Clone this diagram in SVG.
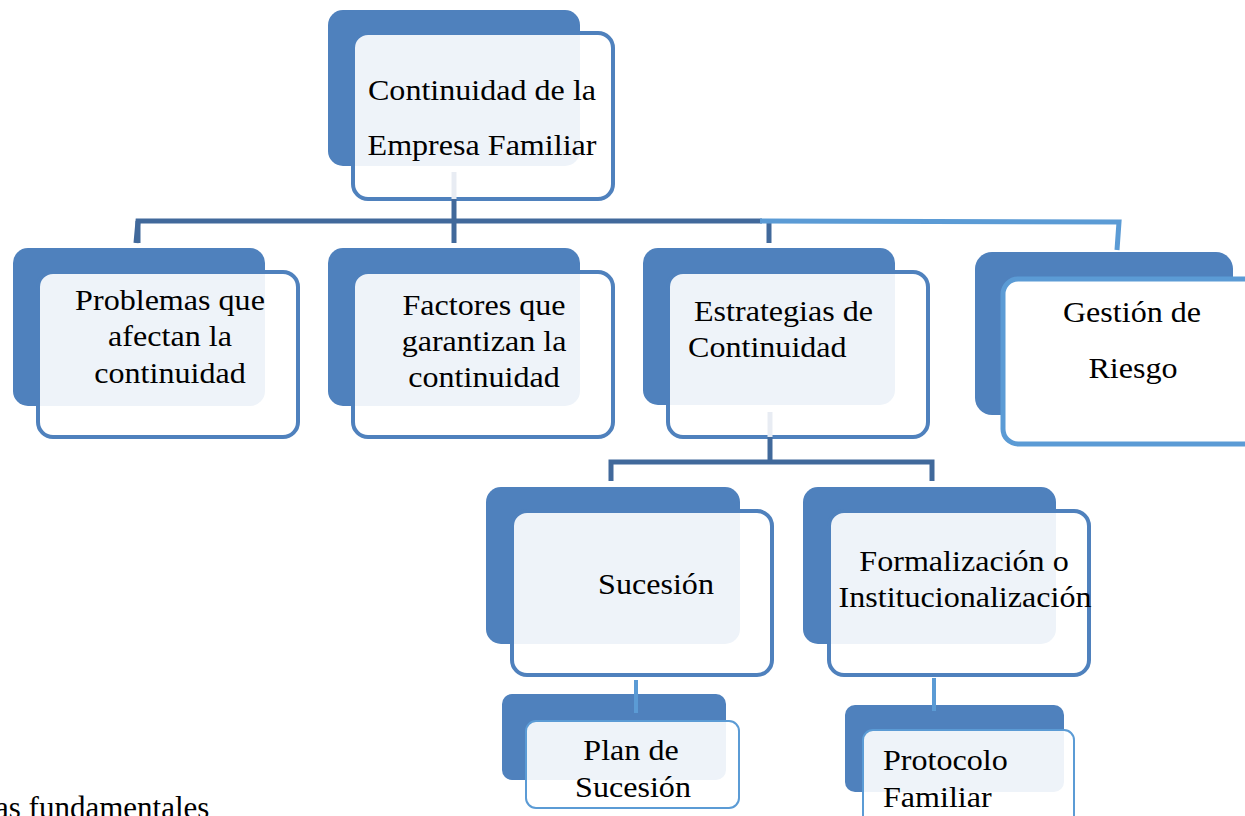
<svg xmlns="http://www.w3.org/2000/svg" width="1245" height="816" viewBox="0 0 1245 816">
<style>
.back{fill:#4f81bd}
.front{fill:#ffffff;fill-opacity:0.9;stroke:#4f81bd;stroke-width:4}
.frontg{fill:#ffffff;stroke:#5b9bd5;stroke-width:5}
.fronts{fill:#ffffff;fill-opacity:0.9;stroke:#5b9bd5;stroke-width:2}
.t{font-family:"Liberation Serif","Times New Roman",serif;font-size:30px;fill:#000}
.m{text-anchor:middle}
.dk{stroke:#41699b;stroke-width:5;fill:none}
.lt{stroke:#5b9bd5;stroke-width:5;fill:none}
.lt4{stroke:#5b9bd5;stroke-width:4;fill:none}
.fa{stroke:#e8ecf3;stroke-width:5;fill:none}
</style>
<rect width="1245" height="816" fill="#fff"/>
<g id="n-continuidad">
<rect class="back" x="328" y="10" width="252" height="156" rx="15"/>
<rect class="front" x="353" y="33" width="260" height="166" rx="15"/>
<text class="t m" transform="translate(482,100) scale(1.07,1)">Continuidad de la</text>
<text class="t m" transform="translate(482,155) scale(1.07,1)">Empresa Familiar</text>
</g>
<g id="n-problemas">
<rect class="back" x="13" y="248" width="252" height="158" rx="15"/>
<rect class="front" x="38" y="272" width="260" height="165" rx="15"/>
<text class="t m" transform="translate(170,310) scale(1.07,1)">Problemas que</text>
<text class="t m" transform="translate(170,346) scale(1.07,1)">afectan la</text>
<text class="t m" transform="translate(170,383) scale(1.07,1)">continuidad</text>
</g>
<g id="n-factores">
<rect class="back" x="328" y="248" width="252" height="158" rx="15"/>
<rect class="front" x="353" y="272" width="260" height="165" rx="15"/>
<text class="t m" transform="translate(484,315) scale(1.07,1)">Factores que</text>
<text class="t m" transform="translate(484,351) scale(1.07,1)">garantizan la</text>
<text class="t m" transform="translate(484,387) scale(1.07,1)">continuidad</text>
</g>
<g id="n-estrategias">
<rect class="back" x="643" y="248" width="252" height="157" rx="15"/>
<rect class="front" x="668" y="272" width="260" height="165" rx="15"/>
<text class="t" transform="translate(694,321) scale(1.07,1)">Estrategias de</text>
<text class="t" transform="translate(688,357) scale(1.07,1)">Continuidad</text>
</g>
<g id="n-gestion">
<rect class="back" x="975" y="252" width="258" height="163" rx="17"/>
<rect class="frontg" x="1003" y="279" width="270" height="165" rx="15"/>
<text class="t m" transform="translate(1132,322) scale(1.07,1)">Gestión de</text>
<text class="t m" transform="translate(1133,378) scale(1.07,1)">Riesgo</text>
</g>
<g id="n-sucesion">
<rect class="back" x="486" y="487" width="254" height="157" rx="15"/>
<rect class="front" x="512" y="511" width="260" height="164" rx="15"/>
<text class="t m" transform="translate(656,594) scale(1.07,1)">Sucesión</text>
</g>
<g id="n-formalizacion">
<rect class="back" x="803" y="487" width="253" height="157" rx="15"/>
<rect class="front" x="829" y="511" width="260" height="164" rx="15"/>
<text class="t m" transform="translate(964,571) scale(1.07,1)">Formalización o</text>
<text class="t m" transform="translate(965,607) scale(1.07,1)">Institucionalización</text>
</g>
<g id="n-plan">
<rect class="back" x="502" y="694" width="224" height="86" rx="10"/>
<rect class="fronts" x="526" y="721" width="213" height="87" rx="10"/>
<text class="t m" transform="translate(631,760) scale(1.07,1)">Plan de</text>
<text class="t m" transform="translate(633,797) scale(1.07,1)">Sucesión</text>
</g>
<g id="n-protocolo">
<rect class="back" x="845" y="705" width="219" height="87" rx="10"/>
<rect class="fronts" x="863" y="730" width="211" height="100" rx="10"/>
<text class="t" transform="translate(883,770) scale(1.07,1)">Protocolo</text>
<text class="t" transform="translate(883,807) scale(1.07,1)">Familiar</text>
</g>
<g id="connectors">
<line class="fa" x1="454" y1="172" x2="454" y2="199"/>
<polyline class="dk" points="454,199 454,243"/>
<polyline class="dk" points="136,243 138,221 762,221"/>
<line class="dk" x1="138" y1="221" x2="138" y2="243"/>
<line class="dk" x1="769" y1="221" x2="769" y2="243"/>
<polyline class="lt" points="760,221 1119,222 1117,250"/>
<line class="fa" x1="770" y1="412" x2="770" y2="437"/>
<line class="dk" x1="770" y1="437" x2="770" y2="462"/>
<polyline class="dk" points="611,481 611,462 932,462 932,481"/>
<line class="lt4" x1="636" y1="680" x2="636" y2="713"/>
<line class="lt4" x1="934" y1="678" x2="934" y2="711"/>
</g>
<text class="t" x="-5" y="818" style="font-size:31px">as fundamentales</text>
</svg>
